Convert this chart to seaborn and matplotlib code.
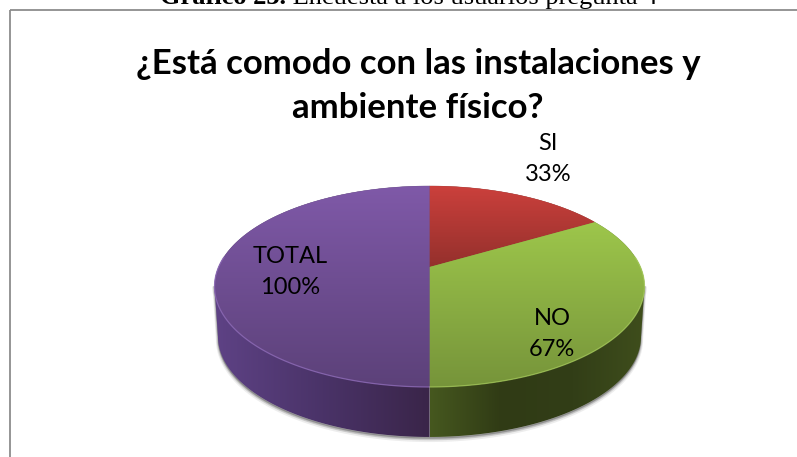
import numpy as np
import matplotlib
matplotlib.use("Agg")
import matplotlib.pyplot as plt
from matplotlib.patches import PathPatch, Rectangle
from matplotlib.path import Path
import seaborn as sns

sns.set_theme(style="white")
plt.rcParams["font.family"] = ["Lato", "DejaVu Sans"]

# Survey answers
categories = ["SI", "NO", "TOTAL"]
percentages = [33, 67, 100]
chart_title = "¿Está comodo con las instalaciones y\nambiente físico?"
caption_bold = "Gráfico 23."
caption_rest = " Encuesta a los usuarios pregunta 4"

# Face shading, top to bottom
face_shades = {
    "SI": ["#CB403C", "#94302C"],
    "NO": ["#9DC64B", "#76943A"],
    "TOTAL": ["#7F59A8", "#5C4179"],
}
# Wall shading, left to right
wall_shades = ["#5E4285", "#4A3368", "#3A2549"]
wall_shades_right = ["#46581F", "#303B15", "#323E17", "#3F4E1C"]

W, H = 797, 457
CX, CY = 429.5, 267.0   # vertex of the pie
TILT = 0.194            # perspective strength
SX, SY = 210.9, 96.7    # projected radii
DEPTH = 50.0
WALL_SHRINK = 0.984

fig = plt.figure(figsize=(W / 100, H / 100), dpi=100)
ax = fig.add_axes([0, 0, 1, 1])
ax.set_xlim(0, W)
ax.set_ylim(H, 0)
ax.axis("off")


def project(theta, radius=1.0):
    """Map clockwise angle from twelve o'clock on the disc to the tilted view."""
    u = radius * np.sin(theta)
    v = radius * np.cos(theta)
    d = 1 + TILT * v
    return CX + SX * u / d, CY - SY * v / d


def shaded(vertices, colors, horizontal=False):
    """Fill a closed outline with a linear blend of the given colours."""
    path = Path(np.vstack([vertices, vertices[0]]), closed=True)
    patch = PathPatch(path, fc="none", ec="none", transform=ax.transData)
    ax.add_patch(patch)
    cmap = sns.blend_palette(colors, as_cmap=True)
    x0, y0 = vertices.min(axis=0)
    x1, y1 = vertices.max(axis=0)
    ramp = np.linspace(0, 1, 256)
    grad = ramp[None, :] if horizontal else ramp[:, None]
    im = ax.imshow(grad, cmap=cmap, extent=(x0, x1, y1, y0), aspect="auto",
                   origin="upper", zorder=2, interpolation="bilinear")
    im.set_clip_path(patch)
    ax.set_xlim(0, W)
    ax.set_ylim(H, 0)
    return im


# Slice boundaries follow the share of each answer
fractions = np.array(percentages, dtype=float) / sum(percentages)
edges = np.concatenate([[0], np.cumsum(fractions)]) * 2 * np.pi

# The wall starts where the tilted rim is at its widest
rim_right = np.arccos(-TILT)
rim_left = 2 * np.pi - rim_right

# Soft shadow under the cylinder wall
t = np.linspace(rim_right, rim_left, 240)
tx, ty = project(t)
for grow, alpha in [(3.0, 0.10), (2.0, 0.18), (1.0, 0.28)]:
    bx = CX + (tx - CX) * WALL_SHRINK
    by = ty + DEPTH
    ax.fill(np.r_[tx, bx[::-1]], np.r_[ty, by[::-1] + grow],
            color="#555555", alpha=alpha, lw=grow, zorder=1)

# Cylinder wall, split at the front between NO and TOTAL
split = edges[2]
for start, stop, colors in [(rim_right, split, wall_shades_right),
                            (split, rim_left, wall_shades)]:
    a = np.linspace(start, stop, 160)
    x, y = project(a)
    lower = np.column_stack([CX + (x - CX) * WALL_SHRINK, y + DEPTH])
    outline = np.vstack([np.column_stack([x, y]), lower[::-1]])
    shaded(outline, colors, horizontal=True)

# Top faces with a flat underlay so no seam shows between slices
for name, start, stop in zip(categories, edges[:-1], edges[1:]):
    a = np.linspace(start, stop, 240)
    x, y = project(a)
    outline = np.vstack([[CX, CY], np.column_stack([x, y])])
    ax.fill(outline[:, 0], outline[:, 1], color=face_shades[name][1],
            lw=0.3, zorder=1.8)
for name, start, stop in zip(categories, edges[:-1], edges[1:]):
    a = np.linspace(start, stop, 240)
    x, y = project(a)
    outline = np.vstack([[CX, CY], np.column_stack([x, y])])
    shaded(outline, face_shades[name])

# Light bevel along the front rim
a = np.linspace(rim_right - 0.3, split, 120)
ax.plot(*project(a), color="#A9CE5E", lw=0.9, alpha=0.7, zorder=3)
a = np.linspace(split, rim_left + 0.3, 120)
ax.plot(*project(a), color="#8E6BB8", lw=0.9, alpha=0.8, zorder=3)

# Chart border: only the left and top edges fall inside the canvas
ax.add_patch(Rectangle((10.5, 9.5), 900, 600, fc="none", ec="#8C8C8C", lw=1.3,
                       zorder=1))

# Title and slice labels
ax.text(418, 86, chart_title, ha="center", va="center", fontsize=25,
        fontweight="bold", color="black", linespacing=1.48, zorder=5)
label_pos = [(548, 159), (552, 334), (290, 272)]
for name, pct, (lx, ly) in zip(categories, percentages, label_pos):
    ax.text(lx, ly, f"{name}\n{pct}%", ha="center", va="center", fontsize=17,
            color="black", linespacing=1.62, zorder=5)

# Caption clipped by the upper edge of the page
bold = ax.text(160, 4, caption_bold, ha="left", va="baseline",
               fontfamily="Liberation Serif", fontsize=19, fontweight="bold",
               color="black", zorder=5)
fig.canvas.draw()
end = bold.get_window_extent().x1
ax.text(end, 4, caption_rest, ha="left", va="baseline",
        fontfamily="Liberation Serif", fontsize=19, color="black", zorder=5)

fig.savefig("out.png", dpi=100, facecolor="white")
